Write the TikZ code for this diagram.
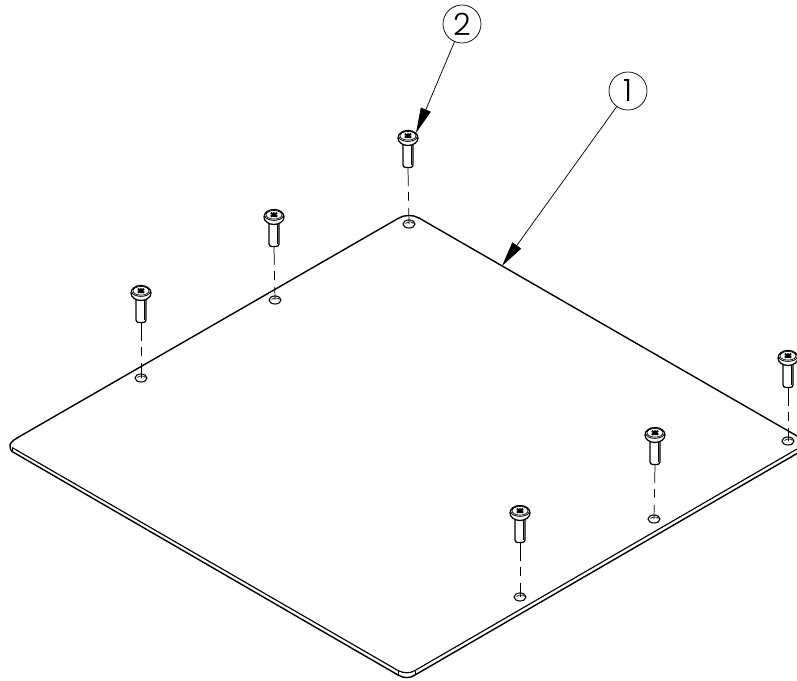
\documentclass[tikz,border=0pt]{standalone}
\usepackage{fontspec}
\setmainfont{Poppins Light}
\usetikzlibrary{arrows.meta}
\tikzset{
  edge line/.style={line width=1.05pt,line join=round,line cap=round},
  thin edge/.style={line width=0.85pt},
  balloon/.style={circle,draw,line width=0.55pt,minimum size=28.5pt,inner sep=0pt,font=\fontsize{23}{23}\selectfont},
  leader/.style={line width=0.55pt,-{Triangle[length=19pt,width=8pt]}},
  center line/.style={line width=0.55pt,dash pattern=on 13.5pt off 4.5pt on 6.5pt off 5.5pt on 30pt},
  hole line/.style={line width=0.8pt,fill=white},
  pics/screw/.style={code={
    \draw[line width=0.95pt,fill=white,rounded corners=2pt] (-5,4) -- (-5,29.5) -- (5,29.5) -- (5,4);
    \draw[line width=0.4pt] (3,6) -- (3,27);
    \draw[line width=0.95pt,fill=white] (0,0) ellipse[x radius=10,y radius=7.5];
    \draw[line width=0.6pt] (-9.5,-1.5) .. controls (-8,5) and (8,5) .. (9.5,-1.5);
    \draw[line width=0.5pt] (0,-2.2) ellipse[x radius=8,y radius=4.3];
    \draw[line width=1.5pt] (-3.2,-4) -- (3.2,-0.4) (-3.2,-0.4) -- (3.2,-4) (0,-4.6) -- (0,0.2);
  }},
  pics/mounthole/.style={code={
    \draw[hole line] (0,0) ellipse[x radius=6,y radius=4];
    \draw[line width=0.5pt] (-3.5,-0.3) .. controls (-2,-2.6) and (3,-2.6) .. (4.5,-0.5);
  }}
}
\begin{document}
\begin{tikzpicture}[x=0.75pt,y=-0.75pt]
\useasboundingbox (0,0) rectangle (797,681);
\clip (0,0) rectangle (797,681);
\fill[white] (0,0) rectangle (797,681);
% plate
\draw[edge line] (419,218) -- (797,436);
\draw[edge line] (398,218.5) .. controls (404,214.5) and (413,214.5) .. (419,218);
\draw[edge line] (17,438) -- (398,218.5);
\draw[edge line] (17,438) .. controls (12,441) and (9.5,444) .. (10,446) .. controls (10,449) and (11,450.5) .. (12,451.5) -- (398,675);
\draw[thin edge] (12,447.5) -- (398,670.5) .. controls (404,673.5) and (410,673.5) .. (415,670.5) -- (797,449);
\draw[edge line] (398,675) .. controls (404,678.5) and (410,678.5) .. (415,675) -- (797,453.5);
\draw[line width=0.5pt] (398,670.5) -- (398,675) (415,670.5) -- (415,675) (12,447.5) -- (12,451.5);
% holes, centre lines and screws
\foreach \n/\sx/\sy/\hx/\hy in {a/408/138/409/224,b/274/217/275/300,c/141/293/141/378,d/788/358/788/441,e/655/435/654/519,f/520/513/520/597}{
  \coordinate (s\n) at (\sx,\sy);
  \coordinate (h\n) at (\hx,\hy);
  \pic at (h\n) {mounthole};
  \draw[center line] ([yshift=-22.5pt]s\n) -- (h\n);
  \pic at (s\n) {screw};
}
% balloons and leaders
\node[balloon] (b2) at (462,24) {2};
\node[balloon] (b1) at (628,91) {1};
\coordinate (t2) at (416,133);
\coordinate (t1) at (502,266);
\draw[leader] (b2) -- (t2);
\draw[leader] (b1) -- (t1);
\end{tikzpicture}
\end{document}
